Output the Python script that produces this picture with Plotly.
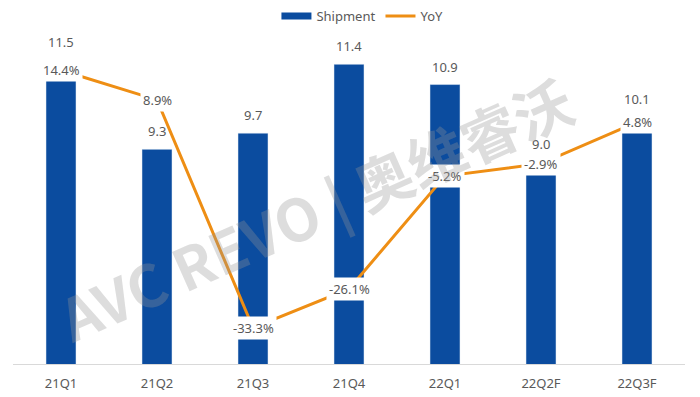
import plotly.graph_objects as go

categories = ["21Q1", "21Q2", "21Q3", "21Q4", "22Q1", "22Q2F", "22Q3F"]
shipment = [11.5, 9.3, 9.7, 11.4, 10.9, 9.0, 10.1]
yoy = [14.4, 8.9, -33.3, -26.1, -5.2, -2.9, 4.8]

BLUE = "#0B4C9F"
ORANGE = "#EE8E14"
GREY = "#595959"
FONT = "Noto Sans"

fig = go.Figure()

fig.add_trace(go.Bar(
    x=categories, y=shipment, name="Shipment", marker_color=BLUE,
    showlegend=False, hoverinfo="skip",
))
fig.add_trace(go.Scatter(
    x=categories, y=yoy, name="YoY", yaxis="y2", mode="lines",
    line=dict(color=ORANGE, width=3), showlegend=False,
))
# legend proxies
fig.add_trace(go.Scatter(x=[None], y=[None], name="Shipment", mode="lines",
                         line=dict(color=BLUE, width=7)))
fig.add_trace(go.Scatter(x=[None], y=[None], name="YoY", mode="lines",
                         line=dict(color=ORANGE, width=3)))

annotations = []
for c, v in zip(categories, shipment):
    annotations.append(dict(
        x=c, y=v, xref="x", yref="y", text=f"{v:.1f}", showarrow=False,
        yanchor="bottom", yshift=7, font=dict(family=FONT, size=13, color=GREY),
    ))
for c, v in zip(categories, yoy):
    annotations.append(dict(
        x=c, y=v, xref="x", yref="y2", text=f"{v:.1f}%", showarrow=False,
        yanchor="middle", bgcolor="white", borderpad=2,
        font=dict(family=FONT, size=13, color=GREY),
    ))
annotations.append(dict(
    x=0.45, y=0.48, xref="paper", yref="paper", text="<b>AVC REVO | 奥维睿沃</b>",
    showarrow=False, textangle=-24,
    font=dict(family="Noto Sans CJK SC", size=58, color="rgba(150,150,150,0.32)"),
))

fig.update_layout(
    width=700, height=397,
    margin=dict(l=13, r=15, t=40, b=33, autoexpand=False),
    paper_bgcolor="white", plot_bgcolor="white",
    bargap=0.6875,
    font=dict(family=FONT, size=13, color=GREY),
    legend=dict(orientation="h", x=0.52, xanchor="center",
                yref="container", y=1 - 16 / 397, yanchor="middle",
                font=dict(family=FONT, size=13, color=GREY), itemwidth=30),
    xaxis=dict(showline=True, linecolor="#D9D9D9", linewidth=1, showgrid=False,
               tickfont=dict(family=FONT, size=13, color=GREY), ticks="",
               ticklabelstandoff=7),
    yaxis=dict(range=[4, 12], visible=False, showgrid=False),
    yaxis2=dict(range=[-40, 20], overlaying="y", visible=False, showgrid=False),
    annotations=annotations,
    showlegend=True,
)

fig.write_html(
    "out.html",
    config={"displayModeBar": False},
    post_script="document.body.style.margin='0';document.body.style.overflow='hidden';",
)
